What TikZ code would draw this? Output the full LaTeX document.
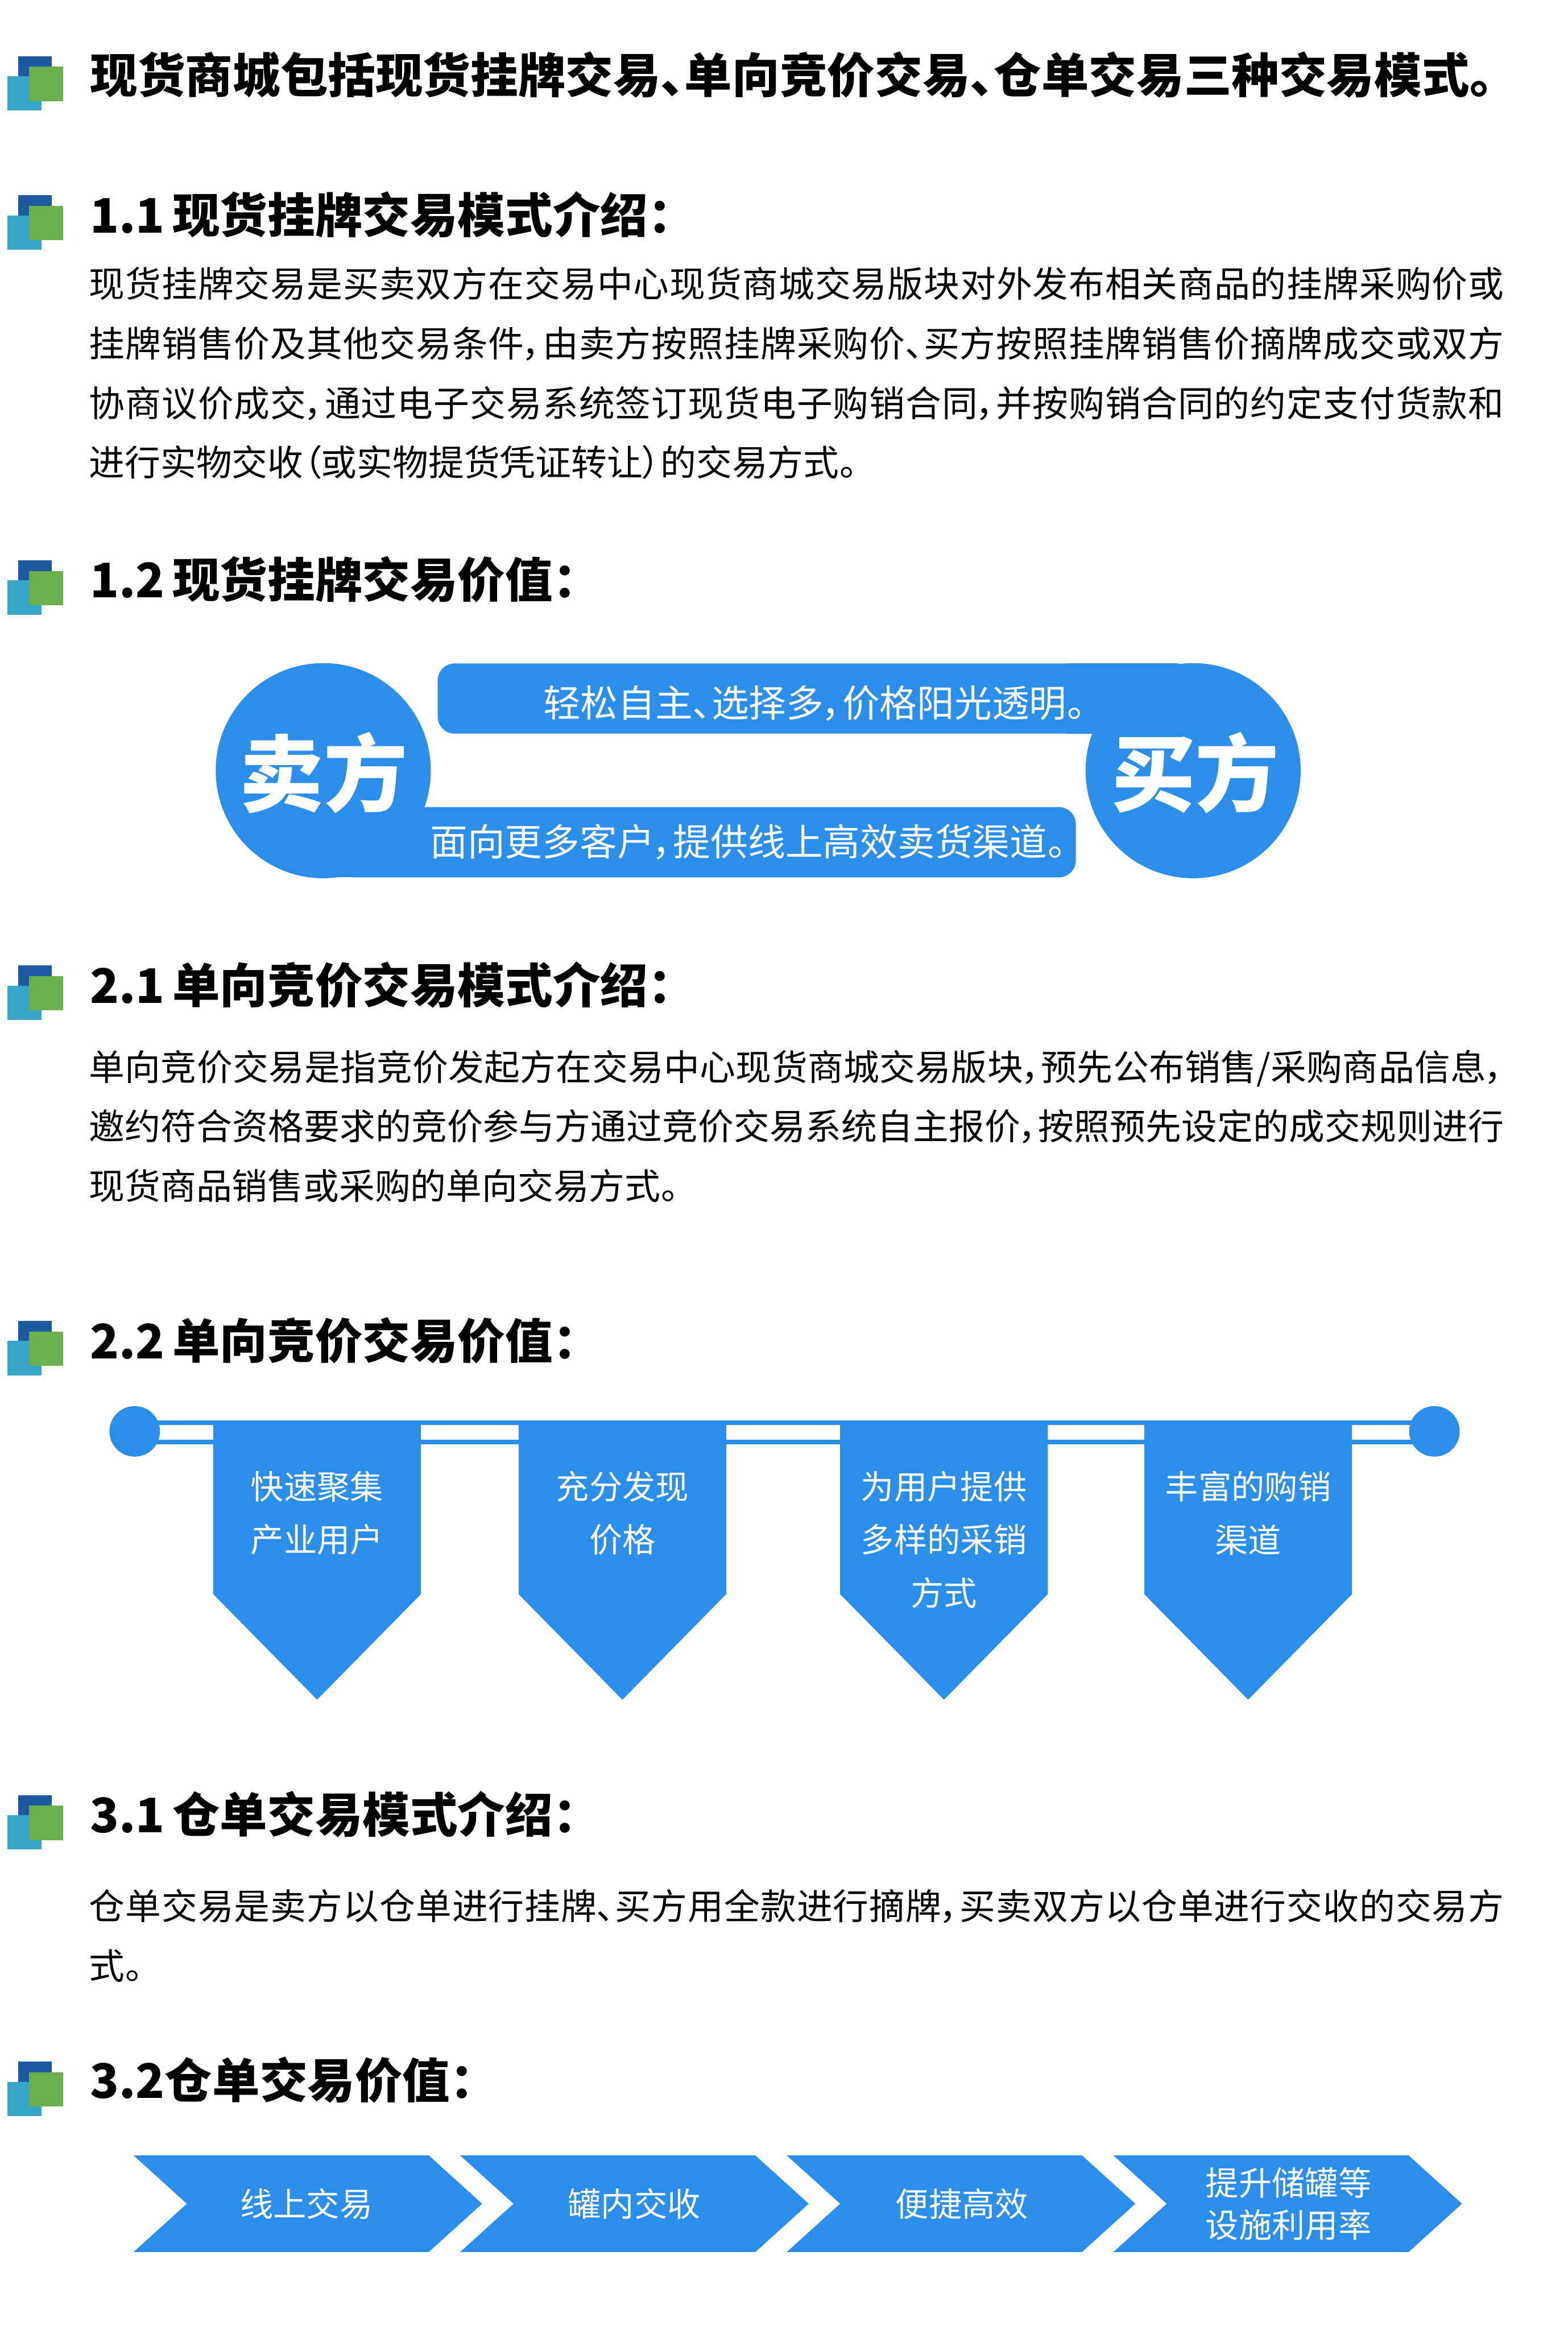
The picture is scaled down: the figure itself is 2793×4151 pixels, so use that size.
\documentclass[tikz,border=0pt]{standalone}
\usepackage{fontspec}
\setmainfont[RawFeature={+palt}]{Noto Sans CJK SC}
\XeTeXlinebreaklocale "zh"
\XeTeXlinebreakskip=0pt plus 2pt

\definecolor{flagblue}{HTML}{2C8EEB}
\definecolor{icondark}{HTML}{1E5AA0}
\definecolor{iconcyan}{HTML}{37A5C5}
\definecolor{icongreen}{HTML}{6AB04C}

\newcommand{\headfont}{\fontsize{24.1}{29}\selectfont\bfseries\spaceskip=0.16em\relax}

\begin{document}
\begin{tikzpicture}[x=0.01cm, y=-0.01cm]
	\tikzstyle{heading} = [anchor=west, inner sep=0pt, font=\headfont]
	\tikzstyle{para} = [anchor=north west, inner sep=0pt, text width=25.2cm, align=justify,
	font=\fontsize{18.1}{30.16}\selectfont]
	\tikzstyle{onblue} = [inner sep=0pt, text=white, font=\fontsize{18.95}{22}\selectfont]
	\tikzstyle{flagtext} = [inner sep=0pt, text=white, align=center, font=\fontsize{16.8}{27}\selectfont]
	\tikzstyle{steptext} = [flagtext, font=\fontsize{16.8}{21.3}\selectfont]
	\tikzstyle{party} = [inner sep=0pt, text=white, font=\fontsize{42.5}{50}\selectfont\bfseries]
	\tikzstyle{round} = [fill=flagblue, circle, inner sep=0pt]

	\useasboundingbox (0,0) rectangle (2793,4151);

	% icons
	\foreach \y in {100,348,998,1720,2353,3198,3673} {
		\fill[icondark] (32,\y) rectangle ++(60.5,61);
		\fill[iconcyan] (13,\y+36) rectangle ++(60.5,61);
		\fill[icongreen] (52,\y+19) rectangle ++(60.5,61);
	}

	% headings
	\node[heading] (title) at (160,133) {现货商城包括现货挂牌交易、单向竞价交易、仓单交易三种交易模式。};
	\node[heading] (head_11) at (160,382) {1.1 现货挂牌交易模式介绍：};
	\node[heading] (head_12) at (160,1032) {1.2 现货挂牌交易价值：};
	\node[heading] (head_21) at (160,1755) {2.1 单向竞价交易模式介绍：};
	\node[heading] (head_22) at (160,2388) {2.2 单向竞价交易价值：};
	\node[heading] (head_31) at (160,3232) {3.1 仓单交易模式介绍：};
	\node[heading] (head_32) at (160,3706) {3.2仓单交易价值：};

	% paragraphs
	\node[para] (text_11) at (158,475) {现货挂牌交易是买卖双方在交易中心现货商城交易版块对外发布相关商品的挂牌采购价或\linebreak
	挂牌销售价及其他交易条件，由卖方按照挂牌采购价、买方按照挂牌销售价摘牌成交或双方\linebreak
	协商议价成交，通过电子交易系统签订现货电子购销合同，并按购销合同的约定支付货款和\linebreak
	进行实物交收（或实物提货凭证转让）的交易方式。};
	\node[para] (text_21) at (158,1870) {单向竞价交易是指竞价发起方在交易中心现货商城交易版块，预先公布销售/采购商品信息，\linebreak
	邀约符合资格要求的竞价参与方通过竞价交易系统自主报价，按照预先设定的成交规则进行\linebreak
	现货商品销售或采购的单向交易方式。};
	\node[para] (text_31) at (158,3365) {仓单交易是卖方以仓单进行挂牌、买方用全款进行摘牌，买卖双方以仓单进行交收的交易方\linebreak
	式。};

	% 1.2
	\fill[flagblue, rounded corners=8.5pt] (780,1182) rectangle (2000,1307);
	\fill[flagblue] (1900,1182) rectangle (2100,1307);
	\fill[flagblue, rounded corners=8.5pt] (600,1438) rectangle (1917,1563);
	\fill[flagblue] (600,1438) rectangle (700,1563);
	\node[round, minimum size=3.83cm] (seller) at (576,1373) {};
	\node[round, minimum size=3.83cm] (buyer) at (2126,1373) {};
	\node[party] (seller_text) at (577,1377) {卖方};
	\node[party] (buyer_text) at (2130,1377) {买方};
	\node[onblue] (top_text) at (1451,1253) {轻松自主、选择多，价格阳光透明。};
	\node[onblue] (bottom_text) at (1333,1500) {面向更多客户，提供线上高效卖货渠道。};

	% 2.2
	\fill[flagblue] (240,2531) rectangle (2556,2539);
	\fill[flagblue] (240,2565) rectangle (2556,2573);
	\node[round, minimum size=0.9cm] (rail_left) at (240,2550) {};
	\node[round, minimum size=0.9cm] (rail_right) at (2556,2550) {};
	\foreach \x in {380,924,1497,2039} {
		\fill[flagblue] (\x,2531) -- ++(370,0) -- ++(0,309) -- ++(-185,188) -- ++(-185,-188) -- cycle;
	}
	\node[flagtext, anchor=north] (flag_a) at (565,2620) {快速聚集\\产业用户};
	\node[flagtext, anchor=north] (flag_b) at (1109,2620) {充分发现\\价格};
	\node[flagtext, anchor=north] (flag_c) at (1682,2620) {为用户提供\\多样的采销\\方式};
	\node[flagtext, anchor=north] (flag_d) at (2224,2620) {丰富的购销\\渠道};

	% 3.2
	\foreach \x in {238,820,1402,1984} {
		\fill[flagblue] (\x,3840) -- ++(526,0) -- ++(95,86) -- ++(-95,86) -- ++(-526,0) -- ++(95,-86) -- cycle;
	}
	\node[steptext] (step_a) at (546,3926) {线上交易};
	\node[steptext] (step_b) at (1130,3926) {罐内交收};
	\node[steptext] (step_c) at (1714,3926) {便捷高效};
	\node[steptext] (step_d) at (2296,3926) {提升储罐等\\设施利用率};
\end{tikzpicture}
\end{document}
